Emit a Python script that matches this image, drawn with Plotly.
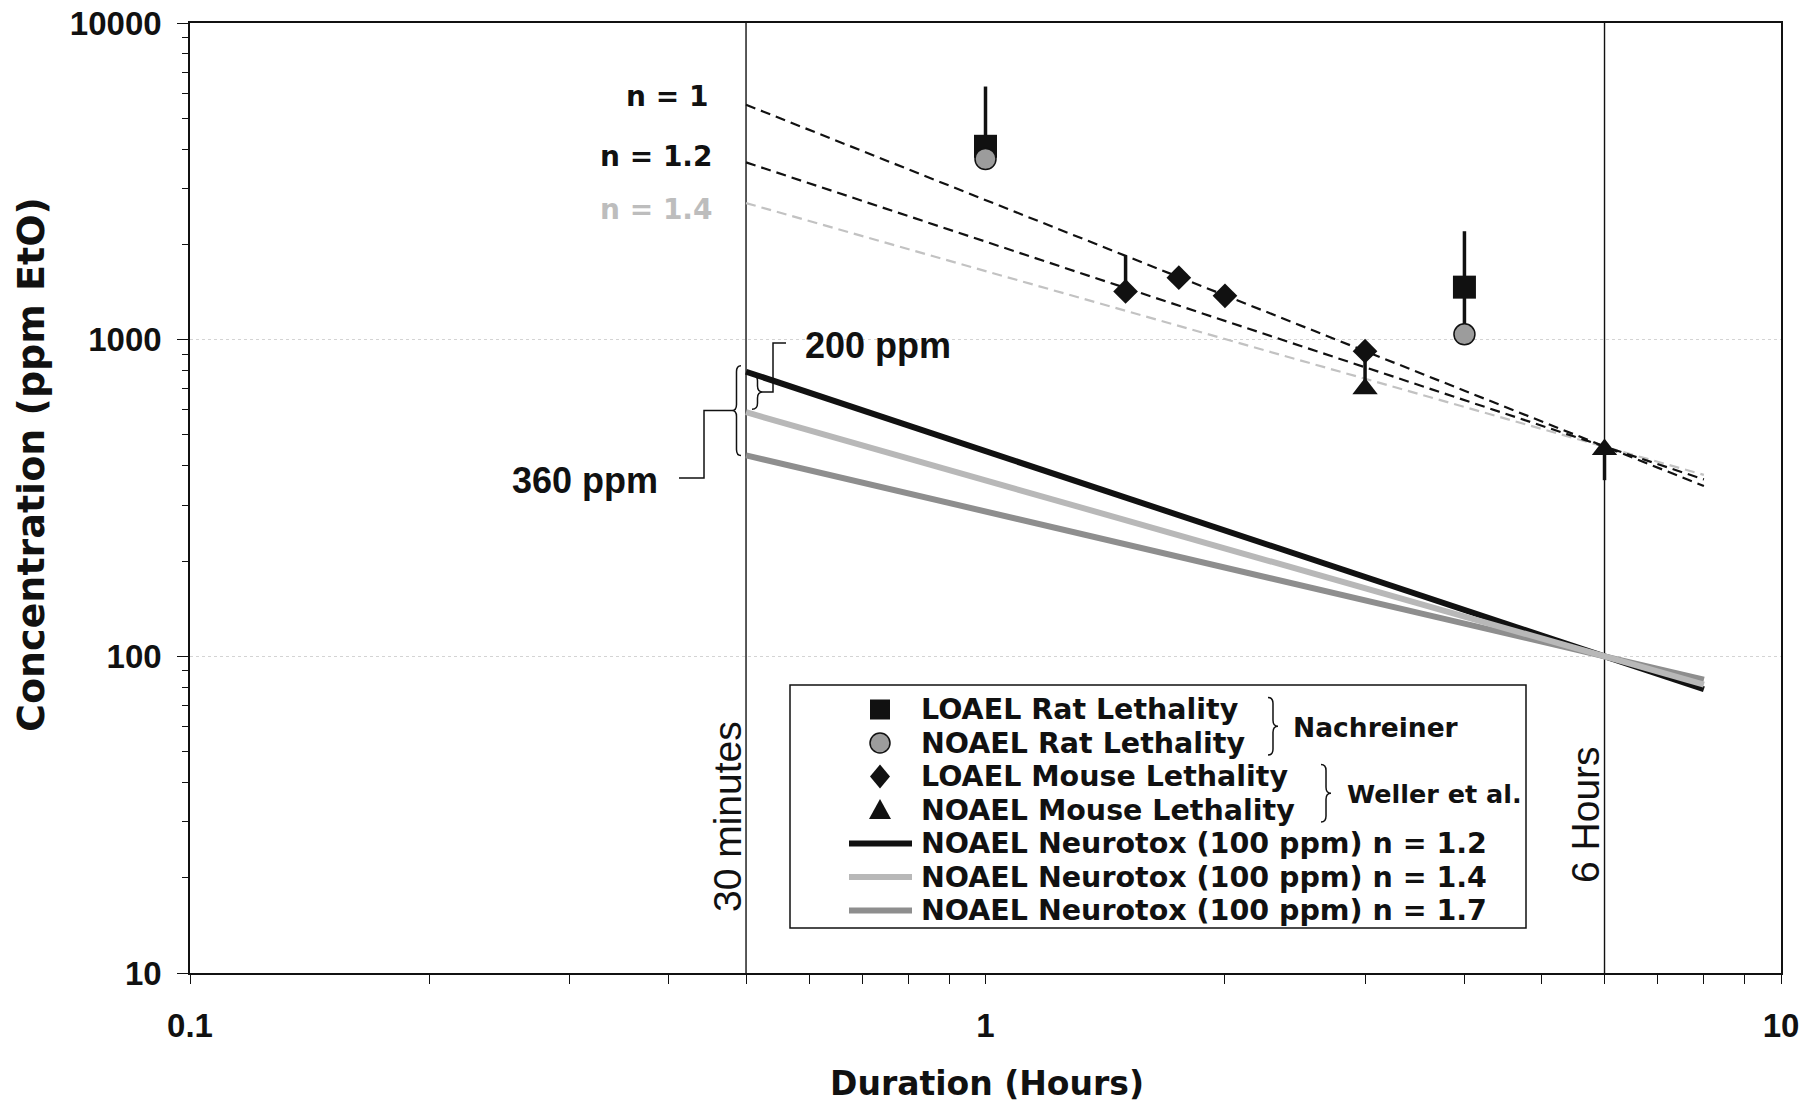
import math
import plotly.graph_objects as go

# ---------------- data ----------------
line_hours = [0.5, 8.0]

# C^n x t = k extrapolations (dashed)
dash_n1_ppm = [5520, 345]
dash_n12_ppm = [3630, 362]
dash_n14_ppm = [2700, 374]

# Neurotox NOAEL (100 ppm at 6 h) time-scaled (solid)
neuro_n12_ppm = [792, 78.7]
neuro_n14_ppm = [590, 81.4]
neuro_n17_ppm = [431, 84.4]

# Nachreiner rat lethality
rat_hours = [1, 4]
rat_loael = [4080, 1465]
rat_loael_top = [6300, 2200]
rat_noael = [3720, 1040]

# Weller et al. mouse lethality
mouse_loael_hours = [1.5, 1.75, 2, 3]
mouse_loael = [1420, 1570, 1375, 920]
mouse_loael_top = [1840, 1570, 1375, 920]
mouse_loael_bottom = [1420, 1570, 1375, 700]
mouse_noael_hours = [3, 6]
mouse_noael = [700, 450]
mouse_noael_bottom = [700, 360]

# reference durations
ref_hours = [0.5, 6]
ref_labels = ["30 minutes", "6 Hours"]

x_tick_vals = [0.1, 1, 10]
x_tick_text = ["0.1", "1", "10"]
y_tick_vals = [10, 100, 1000, 10000]
y_tick_text = ["10", "100", "1000", "10000"]

legend_labels = [
    "LOAEL Rat Lethality",
    "NOAEL Rat Lethality",
    "LOAEL Mouse Lethality",
    "NOAEL Mouse Lethality",
    "NOAEL Neurotox (100 ppm) n = 1.2",
    "NOAEL Neurotox (100 ppm) n = 1.4",
    "NOAEL Neurotox (100 ppm) n = 1.7",
]

# ---------------- page geometry ----------------
W, H = 1806, 1112
ML, MR, MT, MB = 190, 25, 23, 139
PW, PH = W - ML - MR, H - MT - MB

BLACK = "#111111"
GRAY_LIGHT = "#b8b8b8"
GRAY_MID = "#8e8e8e"
ARIAL = "Liberation Sans"
WIDE = "DejaVu Sans"


def fx(px):
    return (px - ML) / PW


def fy(py):
    return 1 - (py - MT) / PH


def P(px, py):
    return f"{fx(px):.5f},{fy(py):.5f}"


def data_y_px(v):
    return MT + PH * (4 - math.log10(v)) / 3


def brace_path(x_end, y_top, y_bot, depth):
    """Curly brace; positive depth points the tip right, negative left."""
    xb = x_end + depth / 2
    xt = x_end + depth
    ym = (y_top + y_bot) / 2
    r = min(6, (y_bot - y_top) / 4)
    return (f"M {P(x_end, y_top)} Q {P(xb, y_top)} {P(xb, y_top + r)} "
            f"L {P(xb, ym - r)} Q {P(xb, ym)} {P(xt, ym)} "
            f"Q {P(xb, ym)} {P(xb, ym + r)} L {P(xb, y_bot - r)} "
            f"Q {P(xb, y_bot)} {P(x_end, y_bot)}")


def poly_path(points):
    return "M " + " L ".join(P(x, y) for x, y in points)


fig = go.Figure()

# reference duration lines
for h in ref_hours:
    fig.add_trace(go.Scatter(x=[h, h], y=[y_tick_vals[0], y_tick_vals[-1]], mode="lines",
                             line=dict(color=BLACK, width=1.4), hoverinfo="skip"))

# dashed extrapolations
fig.add_trace(go.Scatter(x=line_hours, y=dash_n14_ppm, mode="lines",
                         line=dict(color="#c2c2c2", width=2.2, dash="10px,6px")))
fig.add_trace(go.Scatter(x=line_hours, y=dash_n12_ppm, mode="lines",
                         line=dict(color=BLACK, width=2.2, dash="10px,6px")))
fig.add_trace(go.Scatter(x=line_hours, y=dash_n1_ppm, mode="lines",
                         line=dict(color=BLACK, width=2.2, dash="10px,6px")))

# neurotox NOAEL lines
fig.add_trace(go.Scatter(x=line_hours, y=neuro_n12_ppm, mode="lines",
                         line=dict(color=BLACK, width=6)))
fig.add_trace(go.Scatter(x=line_hours, y=neuro_n17_ppm, mode="lines",
                         line=dict(color=GRAY_MID, width=6)))
fig.add_trace(go.Scatter(x=line_hours, y=neuro_n14_ppm, mode="lines",
                         line=dict(color=GRAY_LIGHT, width=6)))

err_style = dict(type="data", symmetric=False, color=BLACK, thickness=3.5, width=0)

# rat data
fig.add_trace(go.Scatter(
    x=rat_hours, y=rat_loael, mode="markers",
    marker=dict(symbol="square", size=23, color=BLACK),
    error_y=dict(array=[t - v for t, v in zip(rat_loael_top, rat_loael)],
                 arrayminus=[v - b for v, b in zip(rat_loael, rat_noael)], **err_style)))
fig.add_trace(go.Scatter(
    x=rat_hours, y=rat_noael, mode="markers",
    marker=dict(symbol="circle", size=21, color="#9c9c9c", line=dict(color=BLACK, width=1.5))))

# mouse data
fig.add_trace(go.Scatter(
    x=mouse_loael_hours, y=mouse_loael, mode="markers",
    marker=dict(symbol="diamond", size=19, color=BLACK),
    error_y=dict(array=[t - v for t, v in zip(mouse_loael_top, mouse_loael)],
                 arrayminus=[v - b for v, b in zip(mouse_loael, mouse_loael_bottom)], **err_style)))
fig.add_trace(go.Scatter(
    x=mouse_noael_hours, y=mouse_noael, mode="markers",
    marker=dict(symbol="triangle-up", size=22, color=BLACK),
    error_y=dict(array=[0] * len(mouse_noael),
                 arrayminus=[v - b for v, b in zip(mouse_noael, mouse_noael_bottom)], **err_style)))

x_minor = [d * 10 ** k for k in (-1, 0) for d in range(2, 10)]
y_minor = [d * 10 ** k for k in (1, 2, 3) for d in range(2, 10)]

tick_font = dict(family=ARIAL, size=33, color=BLACK, weight="bold")
fig.update_xaxes(
    type="log", range=[-1, 1], tickmode="array", tickvals=x_tick_vals, ticktext=x_tick_text,
    ticks="outside", ticklen=9, tickwidth=1.3, tickcolor=BLACK,
    minor=dict(tickmode="array", tickvals=x_minor, ticks="outside", ticklen=9,
               tickwidth=1, tickcolor=BLACK, showgrid=False),
    showline=True, linecolor=BLACK, linewidth=1.6, mirror=True,
    showgrid=False, zeroline=False, tickfont=tick_font, ticklabelstandoff=14)
fig.update_yaxes(
    type="log", range=[1, 4], tickmode="array", tickvals=y_tick_vals, ticktext=y_tick_text,
    ticks="outside", ticklen=11, tickwidth=1.3, tickcolor=BLACK,
    minor=dict(tickmode="array", tickvals=y_minor, ticks="outside", ticklen=6,
               tickwidth=1, tickcolor=BLACK, showgrid=False),
    showline=True, linecolor=BLACK, linewidth=1.6, mirror=True,
    showgrid=True, gridcolor="#d4d4d4", griddash="dot", gridwidth=1,
    zeroline=False, tickfont=tick_font, ticklabelstandoff=9)

annotations = []
shapes = []


def text(x, y, s, size, family=ARIAL, bold=True, color=BLACK, xanchor="center",
         yanchor="middle", angle=0):
    annotations.append(dict(
        x=fx(x), y=fy(y), xref="paper", yref="paper", text=s, showarrow=False,
        xanchor=xanchor, yanchor=yanchor, textangle=angle, borderpad=0,
        font=dict(family=family, size=size, color=color, weight="bold" if bold else "normal")))


# axis titles
text(987, 1083, "Duration (Hours)", 33, family=WIDE)
text(31, 465, "Concentration (ppm EtO)", 38, family=WIDE, angle=-90)

# reference duration labels
text(727, 817, ref_labels[0], 39, bold=False, angle=-90)
text(1585, 815, ref_labels[1], 39, bold=False, angle=-90)

# exponent labels on the dashed lines
text(709, 97, "n = 1", 28, family=WIDE, xanchor="right")
text(714, 157, "n = 1.2", 28, family=WIDE, xanchor="right")
text(714, 209, "n = 1.4", 28, family=WIDE, xanchor="right", color="#bdbdbd")

# 200 ppm / 360 ppm brackets at 30 minutes
y12 = data_y_px(neuro_n12_ppm[0])
y14 = data_y_px(neuro_n14_ppm[0])
y17 = data_y_px(neuro_n17_ppm[0])
bk = dict(type="path", xref="paper", yref="paper", line=dict(color=BLACK, width=1.5))
shapes.append(dict(path=brace_path(752, y12 + 3, y14 - 3, 11), **bk))
mid200 = (y12 + y14) / 2
shapes.append(dict(path=poly_path([(763, mid200), (773, mid200), (773, 343), (786, 343)]), **bk))
text(804, 345, "200 ppm", 36, xanchor="left")
shapes.append(dict(path=brace_path(741, y12 - 6, y17, -9), **bk))
mid360 = (y12 - 6 + y17) / 2
shapes.append(dict(path=poly_path([(732, mid360), (704, mid360), (704, 478), (679, 478)]), **bk))
text(659, 480, "360 ppm", 36, xanchor="right")

# legend
shapes.append(dict(type="rect", xref="paper", yref="paper", x0=fx(790), x1=fx(1526),
                   y0=fy(685), y1=fy(928), line=dict(color=BLACK, width=1.5),
                   fillcolor="white", layer="above"))
rows = [709.5, 743, 776.5, 810, 843.5, 877, 910.5]
sx = 880
shapes.append(dict(type="rect", xref="paper", yref="paper", x0=fx(sx - 10), x1=fx(sx + 10),
                   y0=fy(rows[0] - 10), y1=fy(rows[0] + 10), fillcolor=BLACK,
                   line=dict(width=0), layer="above"))
shapes.append(dict(type="circle", xref="paper", yref="paper", x0=fx(sx - 10), x1=fx(sx + 10),
                   y0=fy(rows[1] - 10), y1=fy(rows[1] + 10), fillcolor="#9c9c9c",
                   line=dict(color=BLACK, width=1.5), layer="above"))
shapes.append(dict(type="path", xref="paper", yref="paper",
                   path=poly_path([(sx, rows[2] - 12), (sx + 10, rows[2]), (sx, rows[2] + 12),
                                   (sx - 10, rows[2])]) + " Z",
                   fillcolor=BLACK, line=dict(width=0), layer="above"))
shapes.append(dict(type="path", xref="paper", yref="paper",
                   path=poly_path([(sx, rows[3] - 11), (sx + 11, rows[3] + 9),
                                   (sx - 11, rows[3] + 9)]) + " Z",
                   fillcolor=BLACK, line=dict(width=0), layer="above"))
for row, col in zip(rows[4:], [BLACK, GRAY_LIGHT, GRAY_MID]):
    shapes.append(dict(type="line", xref="paper", yref="paper", x0=fx(849), x1=fx(912),
                       y0=fy(row), y1=fy(row), line=dict(color=col, width=6), layer="above"))
for row, label in zip(rows, legend_labels):
    text(920, row, label, 28.5, family=WIDE, xanchor="left")

shapes.append(dict(path=brace_path(1268, rows[0] - 12, rows[1] + 12, 10), layer="above", **bk))
text(1292, 727, "Nachreiner", 26.5, family=WIDE, xanchor="left")
shapes.append(dict(path=brace_path(1321, rows[2] - 12, rows[3] + 12, 10), layer="above", **bk))
text(1346, 794, "Weller et al.", 25.5, family=WIDE, xanchor="left")

fig.update_layout(
    width=W, height=H, autosize=False,
    margin=dict(l=ML, r=MR, t=MT, b=MB, autoexpand=False),
    plot_bgcolor="white", paper_bgcolor="white",
    showlegend=False, annotations=annotations, shapes=shapes,
)

fig.write_html("out.html")
